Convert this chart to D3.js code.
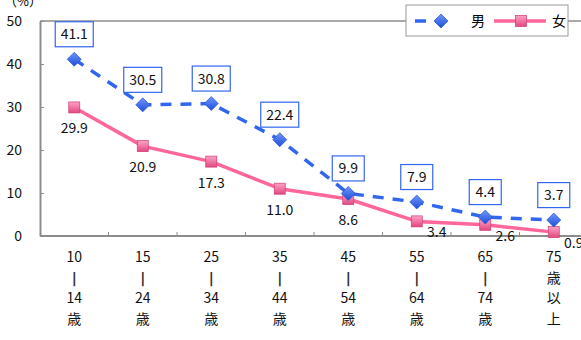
<!DOCTYPE html>
<html>
<head>
<meta charset="utf-8">
<script src="https://cdn.jsdelivr.net/npm/d3@7"></script>
<style>
  body { margin: 0; background: #fff; }
  svg { display: block; font-family: "Noto Sans CJK JP", "Noto Sans", sans-serif; }
</style>
</head>
<body>
<svg width="581" height="340"></svg>
<script>
// age groups, each label split into lines
var categories = [
    ["10", "|", "14", "歳"],
    ["15", "|", "24", "歳"],
    ["25", "|", "34", "歳"],
    ["35", "|", "44", "歳"],
    ["45", "|", "54", "歳"],
    ["55", "|", "64", "歳"],
    ["65", "|", "74", "歳"],
    ["75", "歳", "以", "上"]
];
var male = [41.1, 30.5, 30.8, 22.4, 9.9, 7.9, 4.4, 3.7];
var female = [29.9, 20.9, 17.3, 11.0, 8.6, 3.4, 2.6, 0.9];
var yTicks = [0, 10, 20, 30, 40, 50];
var seriesNames = ["男", "女"];

var blue = "#3366ee";
var pink = "#ff6699";
var axisColor = "#8c8c8c";

var svg = d3.select("svg");
var plotLeft = 40, plotTop = 21, plotBottom = 236, step = 68.5;

var x = d3.scaleBand()
    .domain(d3.range(categories.length))
    .range([plotLeft, plotLeft + step * categories.length]);
var y = d3.scaleLinear().domain([0, 50]).range([plotBottom, plotTop]);
var cx = function(i) { return x(i) + x.bandwidth() / 2; };

// gradients for markers
var defs = svg.append("defs");
var gb = defs.append("linearGradient").attr("id", "gBlue")
    .attr("x1", 0).attr("y1", 0).attr("x2", 0).attr("y2", 1);
gb.append("stop").attr("offset", "0%").attr("stop-color", "#6f95ff");
gb.append("stop").attr("offset", "100%").attr("stop-color", "#1d4fd6");
var gp = defs.append("linearGradient").attr("id", "gPink")
    .attr("x1", 0).attr("y1", 0).attr("x2", 0).attr("y2", 1);
gp.append("stop").attr("offset", "0%").attr("stop-color", "#ffa3c6");
gp.append("stop").attr("offset", "100%").attr("stop-color", "#e0487f");

// frame: top line + axes
svg.append("line").attr("x1", plotLeft).attr("x2", 581).attr("y1", plotTop).attr("y2", plotTop)
    .attr("stroke", axisColor).attr("stroke-width", 1.5);

var yAxis = svg.append("g")
    .attr("transform", "translate(" + plotLeft + ",0)")
    .call(d3.axisRight(y).tickValues(yTicks).tickSize(4).tickSizeOuter(0).tickFormat(""));
yAxis.select(".domain").attr("stroke", axisColor).attr("stroke-width", 2);
yAxis.selectAll(".tick line").attr("stroke", axisColor);

svg.append("g").selectAll("text")
    .data(yTicks)
    .enter().append("text")
    .attr("x", 22)
    .attr("y", function(d) { return y(d) + 5; })
    .attr("text-anchor", "end")
    .attr("font-size", "14px")
    .attr("fill", "#111")
    .text(function(d) { return d; });

svg.append("text")
    .attr("x", 4).attr("y", 6)
    .attr("font-size", "13px")
    .text("（%）");

// x axis with boundary ticks pointing up
svg.append("line").attr("x1", plotLeft).attr("x2", 581).attr("y1", plotBottom).attr("y2", plotBottom)
    .attr("stroke", axisColor).attr("stroke-width", 2);
svg.append("g").selectAll("line")
    .data(d3.range(1, categories.length + 1))
    .enter().append("line")
    .attr("x1", function(d) { return x.step() * d + plotLeft; })
    .attr("x2", function(d) { return x.step() * d + plotLeft; })
    .attr("y1", plotBottom).attr("y2", plotBottom - 4)
    .attr("stroke", axisColor);

var xl = svg.append("g").selectAll("text")
    .data(categories)
    .enter().append("text")
    .attr("text-anchor", "middle")
    .attr("font-size", "14px")
    .attr("fill", "#111");
xl.selectAll("tspan")
    .data(function(d, i) { return d.map(function(s) { return { s: s, i: i }; }); })
    .enter().append("tspan")
    .attr("x", function(d) { return cx(d.i); })
    .attr("y", function(d, j) { return 262 + j * 20.5; })
    .attr("font-family", function(d) { return d.s === "|" ? "DejaVu Sans" : null; })
    .attr("font-weight", function(d) { return d.s === "|" ? "bold" : null; })
    .attr("fill", function(d) { return d.s === "|" ? "#333" : null; })
    .text(function(d) { return d.s; });

// lines
var line = d3.line().x(function(d, i) { return cx(i); }).y(function(d) { return y(d); });

svg.append("path").datum(female)
    .attr("d", line)
    .attr("fill", "none").attr("stroke", pink).attr("stroke-width", 3.5)
    .attr("stroke-linejoin", "round");
svg.append("path").datum(male)
    .attr("d", line)
    .attr("fill", "none").attr("stroke", blue).attr("stroke-width", 3.5)
    .attr("stroke-dasharray", "11,9");

// markers
function diamond(g, px, py) {
    g.append("path")
        .attr("d", "M" + px + "," + (py - 7) + "L" + (px + 7) + "," + py + "L" + px + "," + (py + 7) + "L" + (px - 7) + "," + py + "Z")
        .attr("fill", "url(#gBlue)").attr("stroke", "#2a55cc").attr("stroke-width", 0.7);
}
function square(g, px, py) {
    g.append("rect")
        .attr("x", px - 5.5).attr("y", py - 5.5).attr("width", 11).attr("height", 11)
        .attr("fill", "url(#gPink)").attr("stroke", "#d23a74").attr("stroke-width", 0.7);
}

var mk = svg.append("g");
female.forEach(function(d, i) { square(mk, cx(i), y(d)); });
male.forEach(function(d, i) { diamond(mk, cx(i), y(d)); });

// male labels in boxes
var ml = svg.append("g").selectAll("g")
    .data(male)
    .enter().append("g")
    .attr("transform", function(d, i) { return "translate(" + cx(i) + "," + (y(d) - 25) + ")"; });
ml.append("rect")
    .attr("x", function(d) { return d >= 10 ? -19 : -16; })
    .attr("width", function(d) { return d >= 10 ? 38 : 32; })
    .attr("y", -12.5).attr("height", 25)
    .attr("fill", "#fff").attr("stroke", blue).attr("stroke-width", 1.2);
ml.append("text")
    .attr("text-anchor", "middle")
    .attr("y", 5)
    .attr("font-size", "14px")
    .attr("fill", "#111")
    .text(function(d) { return d.toFixed(1); });

// female labels below (small values pushed to the right)
svg.append("g").selectAll("text")
    .data(female)
    .enter().append("text")
    .attr("text-anchor", "middle")
    .attr("x", function(d, i) { return cx(i) + (d < 5 ? 20 : 0); })
    .attr("y", function(d) { return y(d) + (d < 5 ? 16 : 26); })
    .attr("font-size", "14px")
    .attr("fill", "#111")
    .text(function(d) { return d.toFixed(1); });

// legend
var lg = svg.append("g");
lg.append("rect").attr("x", 406).attr("y", 5).attr("width", 162).attr("height", 31)
    .attr("fill", "#fff").attr("stroke", "#999").attr("stroke-width", 1);
lg.append("line").attr("x1", 415).attr("x2", 455).attr("y1", 21).attr("y2", 21)
    .attr("stroke", blue).attr("stroke-width", 3.5).attr("stroke-dasharray", "11,9");
diamond(lg, 441, 21);
lg.append("text").attr("x", 471).attr("y", 26).attr("font-size", "14px").text(seriesNames[0]);
lg.append("line").attr("x1", 494).attr("x2", 546).attr("y1", 21).attr("y2", 21)
    .attr("stroke", pink).attr("stroke-width", 3.5);
square(lg, 521, 21);
lg.append("text").attr("x", 552).attr("y", 26).attr("font-size", "14px").text(seriesNames[1]);
</script>
</body>
</html>
